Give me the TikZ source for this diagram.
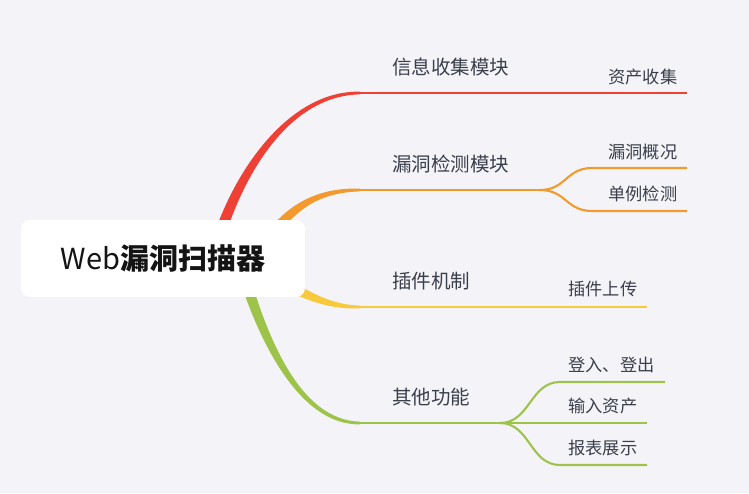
\documentclass[tikz,border=0pt]{standalone}
\usepackage{fontspec}
\usepackage{tikz}
\usetikzlibrary{calc}
\newfontfamily\cjk{Noto Sans CJK SC}
\definecolor{bgpaper}{HTML}{F4F4F8}
\definecolor{txt}{HTML}{3A3F4B}
\definecolor{bred}{HTML}{EE4035}
\definecolor{borange}{HTML}{F39A2E}
\definecolor{byellow}{HTML}{F8C93A}
\definecolor{bgreen}{HTML}{9DC34A}
\tikzset{
  root/.style ={fill=white, rounded corners=5pt, minimum width=5.68cm, minimum height=1.54cm, inner sep=0pt, text=black!92, font=\cjk\fontsize{16.5}{20}\selectfont},
  topic/.style={anchor=west, inner sep=0pt, text=txt, font=\cjk\fontsize{11.1}{13}\selectfont},
  leaf/.style ={anchor=west, inner sep=0pt, text=txt, font=\cjk\fontsize{9.8}{12}\selectfont},
  trunk/.style={line width=1.4pt},
  twig/.style ={line width=1.2pt},
}
% tapered branch: colour, start, control 1, control 2, end
\newcommand{\mapbranch}[5]{%
  \fill[#1] ($(#2)!0.11cm!90:(#3)$) .. controls ($(#3)!0.1cm!-90:(#2)$) and ($(#4)!0.055cm!90:(#5)$) .. ($(#5)!0.027cm!-90:(#4)$)
    -- ($(#5)!0.027cm!90:(#4)$) .. controls ($(#4)!0.055cm!-90:(#5)$) and ($(#3)!0.1cm!90:(#2)$) .. ($(#2)!0.11cm!-90:(#3)$) -- cycle;}

\begin{document}
\begin{tikzpicture}[x=0.02cm, y=-0.02cm]
  \fill[bgpaper] (0,0) rectangle (749,493);

  % where the branches leave the root and where they turn flat
  \coordinate (infoS) at (218,240);
  \coordinate (vulnS) at (265,245);
  \coordinate (plugS) at (280,282);
  \coordinate (miscS) at (240,262);
  \coordinate (infoL) at (360,93);
  \coordinate (vulnL) at (360,190);
  \coordinate (plugL) at (360,307);
  \coordinate (miscL) at (360,423);

  \mapbranch{bred}{infoS}{240,170}{290,93}{infoL}
  \mapbranch{borange}{vulnS}{290,205}{320,190}{vulnL}
  \mapbranch{byellow}{plugS}{305,293}{325,307}{plugL}
  \mapbranch{bgreen}{miscS}{262,340}{300,423}{miscL}

  \node[root] (root) at (163,258.5) {Web\bfseries 漏洞扫描器};

  % 信息收集
  \node[topic] (info) at (392,67) {信息收集模块};
  \node[leaf] (asset) at (608,77) {资产收集};
  \coordinate (assetR) at (687,93);
  \draw[trunk,bred] (infoL) -- (assetR);

  % 漏洞检测
  \node[topic] (vuln) at (392,164) {漏洞检测模块};
  \node[leaf] (vsum) at (608,152) {漏洞概况};
  \node[leaf] (vone) at (608,194) {单例检测};
  \coordinate (vulnF) at (540,190);
  \coordinate (vsumL) at (592,168);
  \coordinate (vsumR) at (687,168);
  \coordinate (voneL) at (592,211);
  \coordinate (voneR) at (687,211);
  \draw[trunk,borange] (vulnL) -- (vulnF);
  \draw[twig,borange] (vulnF) .. controls +(26,0) and +(-26,0) .. (vsumL) -- (vsumR);
  \draw[twig,borange] (vulnF) .. controls +(26,0) and +(-26,0) .. (voneL) -- (voneR);

  % 插件
  \node[topic] (plug) at (392,281) {插件机制};
  \node[leaf] (upload) at (568,289) {插件上传};
  \coordinate (uploadR) at (647,307);
  \draw[trunk,byellow] (plugL) -- (uploadR);

  % 其他
  \node[topic] (misc) at (392,397) {其他功能};
  \node[leaf] (login) at (568,365) {登入、登出};
  \node[leaf] (import) at (568,406) {输入资产};
  \node[leaf] (report) at (568,448) {报表展示};
  \coordinate (miscF) at (500,423);
  \coordinate (loginL) at (560,382);
  \coordinate (loginR) at (665,382);
  \coordinate (importR) at (647,423);
  \coordinate (reportL) at (560,465);
  \coordinate (reportR) at (647,465);
  \draw[trunk,bgreen] (miscL) -- (miscF);
  \draw[twig,bgreen] (miscF) .. controls +(30,0) and +(-30,0) .. (loginL) -- (loginR);
  \draw[twig,bgreen] (miscF) -- (importR);
  \draw[twig,bgreen] (miscF) .. controls +(30,0) and +(-30,0) .. (reportL) -- (reportR);
\end{tikzpicture}
\end{document}
